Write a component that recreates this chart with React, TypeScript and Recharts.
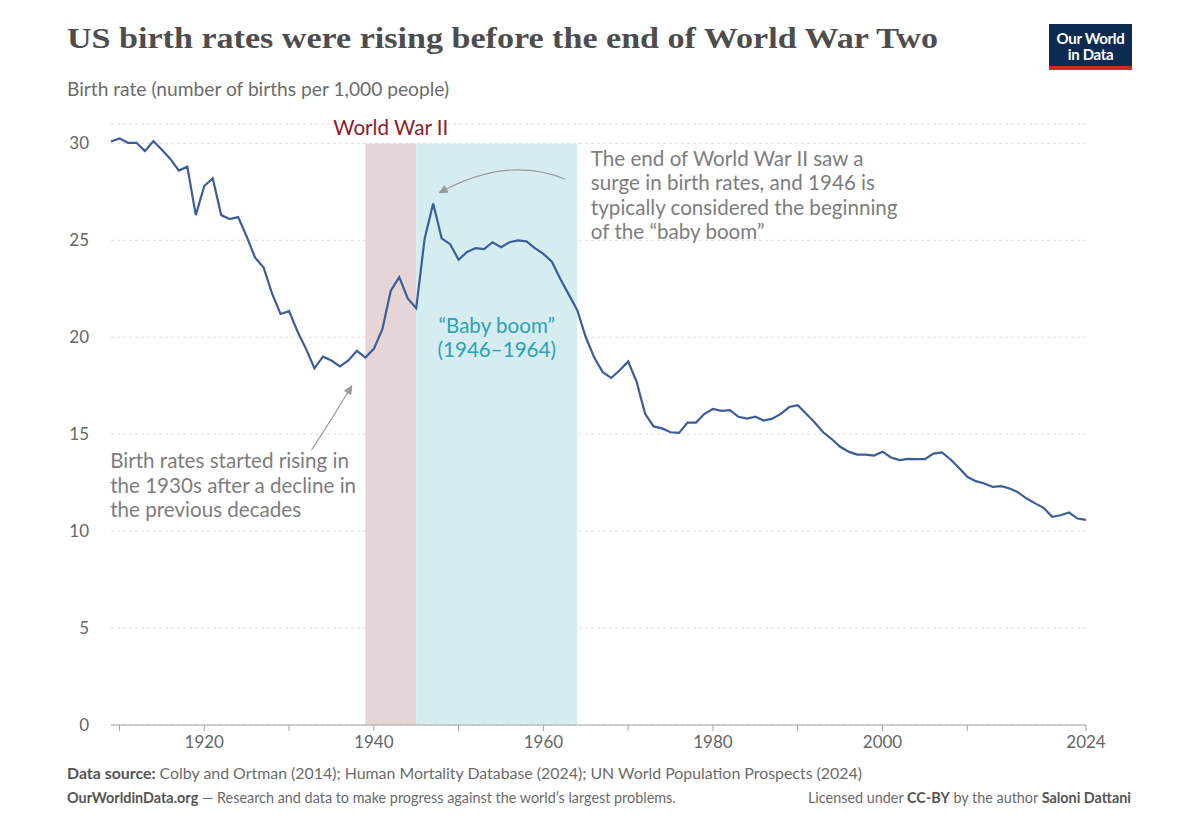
import React from 'react';
import { LineChart, Line, XAxis, YAxis, CartesianGrid, ReferenceArea } from 'recharts';

// ---------- data ----------
const startYear = 1909;
const birthRates = [
  30.1, 30.26, 30.03, 30.03, 29.6, 30.12, 29.67, 29.2, 28.6, 28.8, // 1909-1918
  26.3, 27.8, 28.2, 26.3, 26.1, 26.2, 25.2, 24.1, 23.6, 22.25, // 1919-1928
  21.2, 21.35, 20.3, 19.4, 18.4, 19.0, 18.8, 18.5, 18.8, 19.3, // 1929-1938
  18.95, 19.4, 20.4, 22.4, 23.1, 22.0, 21.5, 25.1, 26.9, 25.1, // 1939-1948
  24.8, 24.0, 24.4, 24.6, 24.55, 24.9, 24.65, 24.9, 25.0, 24.95, // 1949-1958
  24.6, 24.3, 23.9, 23.0, 22.2, 21.4, 20.0, 18.95, 18.2, 17.9, // 1959-1968
  18.3, 18.75, 17.7, 16.05, 15.4, 15.3, 15.1, 15.07, 15.6, 15.6, // 1969-1978
  16.05, 16.3, 16.2, 16.24, 15.9, 15.8, 15.9, 15.7, 15.8, 16.05, // 1979-1988
  16.4, 16.5, 16.05, 15.6, 15.1, 14.75, 14.35, 14.1, 13.95, 13.95, // 1989-1998
  13.9, 14.1, 13.8, 13.66, 13.73, 13.71, 13.71, 14.0, 14.06, 13.71, // 1999-2008
  13.27, 12.8, 12.58, 12.46, 12.28, 12.32, 12.2, 12.0, 11.68, 11.43, // 2009-2018
  11.2, 10.74, 10.82, 10.96, 10.65, 10.58, // 2019-2024
];
const xTicks = [1910, 1920, 1930, 1940, 1950, 1960, 1970, 1980, 1990, 2000, 2010, 2024];
const xTickLabels = [1920, 1940, 1960, 1980, 2000, 2024];
const yTicks = [0, 5, 10, 15, 20, 25, 30];
const warPeriod = [1939, 1945];
const boomPeriod = [1945, 1964];

const chartData = birthRates.map((rate, i) => ({ year: startYear + i, rate }));

// ---------- layout ----------
const W = 1200;
const H = 825;
const M = { top: 124, right: 114, bottom: 70, left: 90 };
const Y_AXIS_W = 21;
const X_AXIS_H = 30;
const X_DOMAIN: [number, number] = [1909, 2024];
const Y_DOMAIN: [number, number] = [0, 31];
const plotLeft = M.left + Y_AXIS_W;
const plotRight = W - M.right;
const plotTop = M.top;
const plotBottom = H - M.bottom - X_AXIS_H;
const sx = (yr: number) =>
  plotLeft + ((yr - X_DOMAIN[0]) / (X_DOMAIN[1] - X_DOMAIN[0])) * (plotRight - plotLeft);
const sy = (v: number) =>
  plotBottom - ((v - Y_DOMAIN[0]) / (Y_DOMAIN[1] - Y_DOMAIN[0])) * (plotBottom - plotTop);

const FONT = 'Lato, "Noto Sans", sans-serif';
const GRAY = '#7d7d7d';
const ANNO = 20.6;

function Arrow({ from, ctrl, to }: { from: [number, number]; ctrl: [number, number]; to: [number, number] }) {
  const p0 = [sx(from[0]), sy(from[1])];
  const c = [sx(ctrl[0]), sy(ctrl[1])];
  const p2 = [sx(to[0]), sy(to[1])];
  const dx = p2[0] - c[0];
  const dy = p2[1] - c[1];
  const len = Math.hypot(dx, dy);
  const ux = dx / len;
  const uy = dy / len;
  const hl = 8;
  const hw = 3.6;
  const a = [p2[0] - ux * hl - uy * hw, p2[1] - uy * hl + ux * hw];
  const b = [p2[0] - ux * hl + uy * hw, p2[1] - uy * hl - ux * hw];
  return (
    <g>
      <path d={`M${p0[0]},${p0[1]} Q${c[0]},${c[1]} ${p2[0]},${p2[1]}`} fill="none" stroke="#9a9a9a" strokeWidth={1.2} />
      <path d={`M${a[0]},${a[1]} L${p2[0]},${p2[1]} L${b[0]},${b[1]} Z`} fill="#9a9a9a" stroke="#9a9a9a" strokeWidth={1} />
    </g>
  );
}

function Overlay() {
  const t1x = sx(1965.6);
  const t3x = sx(1908.9);
  const boomX = sx((boomPeriod[0] + boomPeriod[1]) / 2);
  return (
    <svg width={W} height={H} style={{ position: 'absolute', left: 0, top: 0, pointerEvents: 'none' }}>
      {/* title */}
      <text x={67} y={48} fontFamily='"Liberation Serif", "DejaVu Serif", serif' fontWeight={700} fontSize={30} fill="#4d4d4d" textLength={871} lengthAdjust="spacingAndGlyphs">
        US birth rates were rising before the end of World War Two
      </text>
      <text x={67} y={96} fontFamily={FONT} fontSize={19.2} fill="#6b6b6b">
        Birth rate (number of births per 1,000 people)
      </text>
      {/* logo */}
      <rect x={1049} y={24} width={83} height={46} fill="#0c2a52" />
      <rect x={1049} y={66} width={83} height={4} fill="#d02a22" />
      <text x={1090.5} y={43.5} textAnchor="middle" fontFamily={FONT} fontWeight={700} fontSize={15} fill="#fff" letterSpacing={-0.3}>
        Our World
      </text>
      <text x={1090.5} y={59.5} textAnchor="middle" fontFamily={FONT} fontWeight={700} fontSize={15} fill="#fff" letterSpacing={-0.3}>
        in Data
      </text>

      {/* period labels */}
      <text x={sx((warPeriod[0] + warPeriod[1]) / 2)} y={sy(30) - 8} textAnchor="middle" fontFamily={FONT} fontSize={ANNO} fill="#8c1c2c">
        World War II
      </text>
      <text x={boomX} y={332.5} textAnchor="middle" fontFamily={FONT} fontSize={ANNO} fill="#2ba2b5">
        “Baby boom”
      </text>
      <text x={boomX} y={356.5} textAnchor="middle" fontFamily={FONT} fontSize={ANNO} fill="#2ba2b5">
        (1946–1964)
      </text>

      {/* annotation: end of war */}
      {['The end of World War II saw a', 'surge in birth rates, and 1946 is', 'typically considered the beginning', 'of the “baby boom”'].map((s, i) => (
        <text key={s} x={t1x} y={166 + i * 24.4} fontFamily={FONT} fontSize={ANNO} fill={GRAY}>
          {s}
        </text>
      ))}
      <Arrow from={[1962.6, 28.15]} ctrl={[1955.8, 29.4]} to={[1947.7, 27.45]} />

      {/* annotation: 1930s */}
      {['Birth rates started rising in', 'the 1930s after a decline in', 'the previous decades'].map((s, i) => (
        <text key={s} x={t3x} y={468 + i * 24.5} fontFamily={FONT} fontSize={ANNO} fill={GRAY}>
          {s}
        </text>
      ))}
      <Arrow from={[1932.65, 14.18]} ctrl={[1935.1, 15.8]} to={[1937.4, 17.5]} />

      {/* footer */}
      <text x={67} y={779} fontFamily={FONT} fontSize={15.9} fill="#6b6b6b">
        <tspan fontWeight={700} fill="#555">Data source:</tspan> Colby and Ortman (2014); Human Mortality Database (2024); UN World Population Prospects (2024)
      </text>
      <text x={67} y={803} fontFamily={FONT} fontSize={14.4} fill="#6b6b6b">
        <tspan fontWeight={700} fill="#555">OurWorldinData.org</tspan> — Research and data to make progress against the world’s largest problems.
      </text>
      <text x={1131} y={803} textAnchor="end" fontFamily={FONT} fontSize={14.4} fill="#6b6b6b">
        Licensed under <tspan fontWeight={700} fill="#555">CC-BY</tspan> by the author <tspan fontWeight={700} fill="#555">Saloni Dattani</tspan>
      </text>
    </svg>
  );
}

export default function App() {
  return (
    <div style={{ position: 'absolute', left: 0, top: 0, width: W, height: H, background: '#fff', fontFamily: FONT }}>
      <LineChart width={W} height={H} data={chartData} margin={M}>
        <CartesianGrid vertical={false} stroke="#dcdcdc" strokeDasharray="3 3" />
        <ReferenceArea x1={warPeriod[0]} x2={warPeriod[1]} y1={0} y2={30} fill="#e6d5d7" fillOpacity={1} stroke="none" />
        <ReferenceArea x1={boomPeriod[0]} x2={boomPeriod[1]} y1={0} y2={30} fill="#d5edf1" fillOpacity={1} stroke="none" />
        <XAxis
          dataKey="year"
          type="number"
          domain={X_DOMAIN}
          ticks={xTicks}
          interval={0}
          height={X_AXIS_H}
          tickSize={6}
          tickMargin={5}
          axisLine={{ stroke: '#a3a3a3' }}
          tickLine={{ stroke: '#a3a3a3' }}
          tick={{ fill: '#666', fontSize: 17, fontFamily: FONT }}
          tickFormatter={(v: number) => (xTickLabels.includes(v) ? String(v) : '')}
        />
        <YAxis
          type="number"
          domain={Y_DOMAIN}
          ticks={yTicks}
          interval={0}
          width={Y_AXIS_W}
          axisLine={false}
          tickLine={false}
          tickSize={0}
          tickMargin={22}
          tick={{ fill: '#666', fontSize: 17, fontFamily: FONT }}
        />
        <Line type="linear" dataKey="rate" stroke="#3c5d98" strokeWidth={2.2} dot={false} activeDot={false} isAnimationActive={false} />
      </LineChart>
      <Overlay />
    </div>
  );
}
